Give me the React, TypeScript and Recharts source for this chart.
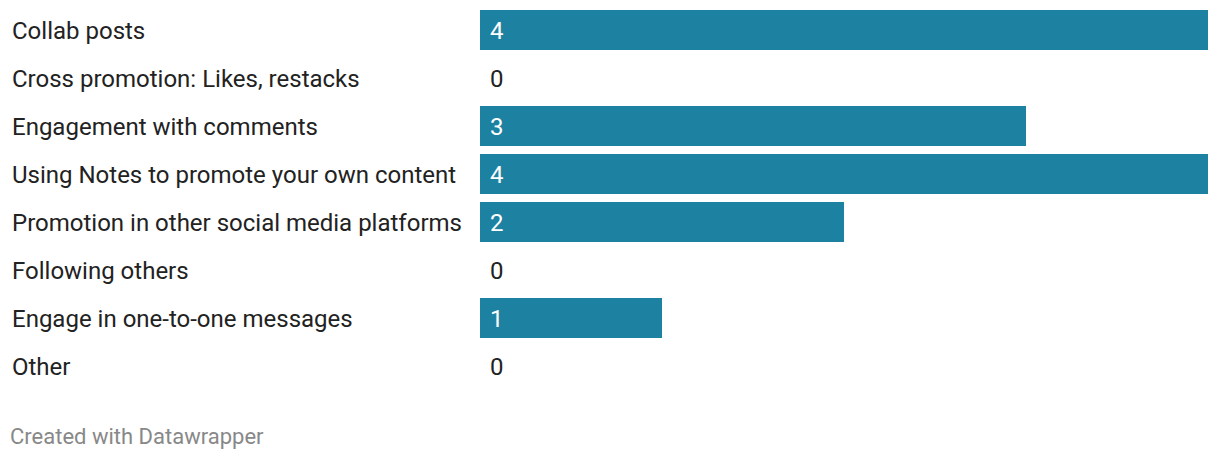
import React from "react";
import { BarChart, Bar, XAxis, YAxis, LabelList, Rectangle } from "recharts";

const categories = [
  "Collab posts",
  "Cross promotion: Likes, restacks",
  "Engagement with comments",
  "Using Notes to promote your own content",
  "Promotion in other social media platforms",
  "Following others",
  "Engage in one-to-one messages",
  "Other",
];
const counts = [4, 0, 3, 4, 2, 0, 1, 0];

const data = categories.map((name, i) => ({ name, value: counts[i] }));

const FONT = "Roboto, 'Noto Sans', sans-serif";

// label on the left, pinned to the page edge
const CategoryTick = (props: any) => {
  const { y, payload } = props;
  return (
    <text x={12} y={y} dy="0.36em" fill="#222" fontSize={24} fontFamily={FONT} textAnchor="start">
      {payload.value}
    </text>
  );
};

// value label: white inside bar, dark when the bar is empty
const ValueLabel = (props: any) => {
  const { x, y, height, value } = props;
  return (
    <text
      x={x + 10}
      y={y + height / 2}
      dy="0.36em"
      fill={value > 0 ? "#ffffff" : "#222"}
      fontSize={24}
      fontFamily={FONT}
      textAnchor="start"
    >
      {value}
    </text>
  );
};

// zero rows keep a 1px placeholder so their label still renders, but draw nothing
const BarShape = (props: any) => {
  if (!props.payload || props.payload.value <= 0) return <g />;
  return <Rectangle {...props} />;
};

const App = () => {
  return (
    <div style={{ position: "absolute", left: 0, top: 0, width: 1220, height: 462, background: "#fff" }}>
      <BarChart
        width={1220}
        height={392}
        data={data}
        layout="vertical"
        margin={{ top: 6, right: 12, bottom: 2, left: 0 }}
      >
        <XAxis type="number" domain={[0, 4]} hide />
        <YAxis
          type="category"
          dataKey="name"
          width={480}
          axisLine={false}
          tickLine={false}
          interval={0}
          tick={<CategoryTick />}
        />
        <Bar
          dataKey="value"
          fill="#1d81a2"
          barSize={40}
          minPointSize={1}
          shape={<BarShape />}
          isAnimationActive={false}
        >
          <LabelList dataKey="value" content={<ValueLabel />} />
        </Bar>
      </BarChart>
      <div
        style={{
          position: "absolute",
          left: 10,
          top: 424,
          fontFamily: FONT,
          fontSize: 22,
          color: "#888",
        }}
      >
        Created with Datawrapper
      </div>
    </div>
  );
};

export default App;
